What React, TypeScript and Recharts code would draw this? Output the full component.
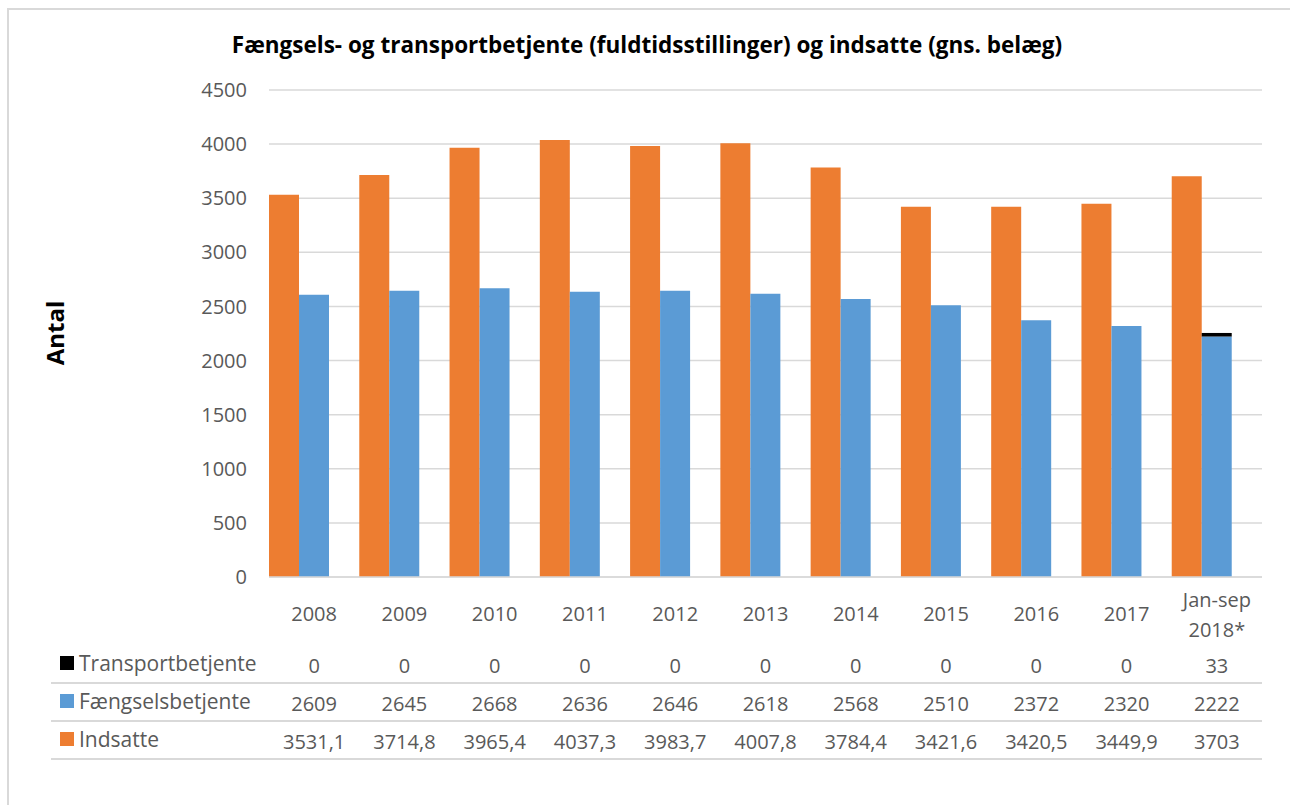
import React from 'react';
import { BarChart, Bar, XAxis, YAxis, CartesianGrid } from 'recharts';

const categories = ['2008', '2009', '2010', '2011', '2012', '2013', '2014', '2015', '2016', '2017', 'Jan-sep 2018*'];
const transportbetjente = [0, 0, 0, 0, 0, 0, 0, 0, 0, 0, 33];
const faengselsbetjente = [2609, 2645, 2668, 2636, 2646, 2618, 2568, 2510, 2372, 2320, 2222];
const indsatte = [3531.1, 3714.8, 3965.4, 4037.3, 3983.7, 4007.8, 3784.4, 3421.6, 3420.5, 3449.9, 3703];
const yTicks = [0, 500, 1000, 1500, 2000, 2500, 3000, 3500, 4000, 4500];

const data = categories.map((name, i) => ({
  name,
  transport: transportbetjente[i],
  faengsel: faengselsbetjente[i],
  indsatte: indsatte[i],
}));

const ORANGE = '#ED7D31';
const BLUE = '#5B9BD5';
const BLACK = '#000000';
const GREY = '#595959';
const LINE = '#d9d9d9';
const FONT = '"Open Sans", sans-serif';

// data table rows, top to bottom
const rows = [
  { label: 'Transportbetjente', color: BLACK, values: transportbetjente, y: 663 },
  { label: 'Fængselsbetjente', color: BLUE, values: faengselsbetjente, y: 701 },
  { label: 'Indsatte', color: ORANGE, values: indsatte, y: 739 },
];

const fmt = (v: number) => String(v).replace('.', ',');

const TableTick = (props: any) => {
  const { x, y, payload } = props;
  const i = categories.indexOf(payload.value);
  const parts = String(payload.value).split(' ');
  return (
    <g fontFamily={FONT} fontSize={20} fill={GREY} textAnchor="middle">
      {parts.length > 1 ? (
        parts.map((p, k) => (
          <text key={k} x={x} y={y + 20 + k * 30} dominantBaseline="central">
            {p}
          </text>
        ))
      ) : (
        <text x={x} y={y + 34} dominantBaseline="central">
          {payload.value}
        </text>
      )}
      {rows.map((r) => (
        <text key={r.label} x={x} y={r.y - 577 + y} dominantBaseline="central">
          {fmt(r.values[i])}
        </text>
      ))}
    </g>
  );
};

export default function App() {
  return (
    <div style={{ position: 'absolute', left: 0, top: 0, width: 1290, height: 805, background: '#fff', overflow: 'hidden' }}>
      <div
        style={{
          position: 'absolute',
          left: 7,
          top: 8,
          width: 1300,
          height: 820,
          border: `2px solid ${LINE}`,
        }}
      />
      <div
        style={{
          position: 'absolute',
          left: 0,
          width: 1294,
          top: 29,
          textAlign: 'center',
          fontFamily: FONT,
          fontWeight: 700,
          fontSize: 22.5,
          lineHeight: '32px',
          color: '#000',
        }}
      >
        Fængsels- og transportbetjente (fuldtidsstillinger) og indsatte (gns. belæg)
      </div>
      <div style={{ position: 'absolute', left: 0, top: 0 }}>
        <BarChart
          width={1290}
          height={805}
          data={data}
          margin={{ top: 90, right: 28, left: 0, bottom: 28 }}
          barCategoryGap={0}
          barGap={0}
        >
          <CartesianGrid vertical={false} stroke={LINE} strokeWidth={1.5} />
          <XAxis
            dataKey="name"
            height={200}
            tickLine={false}
            tickSize={0}
            axisLine={{ stroke: LINE, strokeWidth: 1.5 }}
            interval={0}
            tick={<TableTick />}
          />
          <YAxis
            width={269}
            domain={[0, 4500]}
            ticks={yTicks}
            axisLine={false}
            tickLine={false}
            tickSize={0}
            tickMargin={22}
            tick={{ fill: GREY, fontSize: 20, fontFamily: FONT }}
          />
          <Bar dataKey="indsatte" name="Indsatte" stackId="i" fill={ORANGE} isAnimationActive={false} />
          <Bar dataKey="faengsel" name="Fængselsbetjente" stackId="f" fill={BLUE} isAnimationActive={false} />
          <Bar dataKey="transport" name="Transportbetjente" stackId="f" fill={BLACK} isAnimationActive={false} />
          <Bar dataKey="spacer" stackId="s" fill="none" legendType="none" isAnimationActive={false} />
        </BarChart>
      </div>
      <svg width={1290} height={805} style={{ position: 'absolute', left: 0, top: 0, pointerEvents: 'none' }}>
        <text
          x={54}
          y={333}
          transform="rotate(-90 54 333)"
          textAnchor="middle"
          dominantBaseline="central"
          fontFamily={FONT}
          fontWeight={700}
          fontSize={24}
          fill="#000"
        >
          Antal
        </text>
        {rows.map((r) => (
          <g key={r.label}>
            <rect x={60} y={r.y - 7} width={14} height={14} fill={r.color} />
            <text x={79} y={r.y} dominantBaseline="central" fontFamily={FONT} fontSize={21} fill={GREY}>
              {r.label}
            </text>
            <line x1={51} x2={1262} y1={r.y + 20} y2={r.y + 20} stroke={LINE} strokeWidth={2} />
          </g>
        ))}
      </svg>
    </div>
  );
}
